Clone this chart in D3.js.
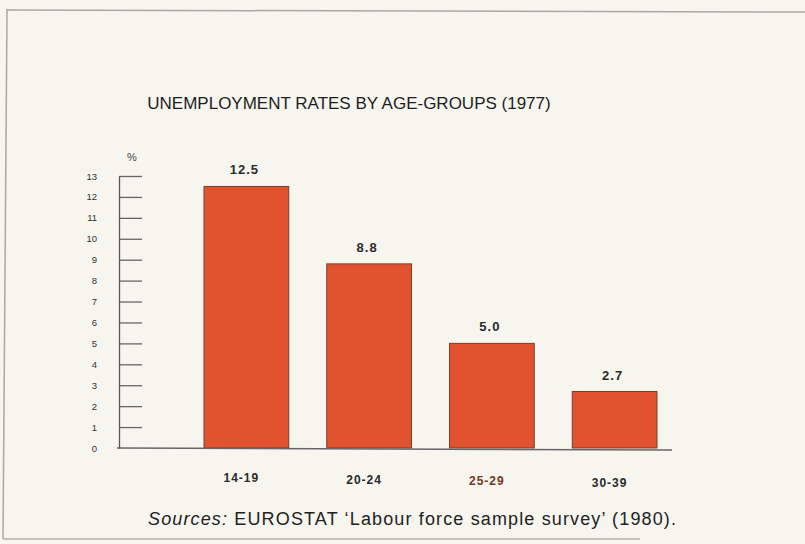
<!DOCTYPE html>
<html>
<head>
<meta charset="utf-8">
<script src="https://cdn.jsdelivr.net/npm/d3@7"></script>
<style>
	body { margin: 0; background: #f6f5ee; }
	svg { display: block; font-family: "Liberation Sans", Arial, sans-serif; }
</style>
</head>
<body>
<div id="chart"></div>
<script>
// Data
var ageGroups = ["14-19", "20-24", "25-29", "30-39"];
var rates = [12.5, 8.8, 5.0, 2.7];
var rateLabels = ["12.5", "8.8", "5.0", "2.7"];
var tickValues = [0, 1, 2, 3, 4, 5, 6, 7, 8, 9, 10, 11, 12, 13];

var svgW = 805,
	svgH = 544;

var svg = d3.select("#chart")
	.append("svg")
	.attr("width", svgW)
	.attr("height", svgH);

svg.append("rect")
	.attr("width", svgW)
	.attr("height", svgH)
	.attr("fill", "#f6f5ee");

// page frame (scan edges)
svg.append("line")
	.attr("x1", 6).attr("y1", 10).attr("x2", 805).attr("y2", 12)
	.attr("stroke", "#a9a9a4").attr("stroke-width", 1.5);
svg.append("line")
	.attr("x1", 7).attr("y1", 10).attr("x2", 3).attr("y2", 539)
	.attr("stroke", "#a9a9a4").attr("stroke-width", 1.5);
svg.append("line")
	.attr("x1", 3).attr("y1", 539).attr("x2", 640).attr("y2", 539)
	.attr("stroke", "#b3b3ae").attr("stroke-width", 1.5);

// title
svg.append("text")
	.attr("x", 349)
	.attr("y", 109)
	.attr("text-anchor", "middle")
	.attr("font-size", 17)
	.attr("fill", "#1e1e1e")
	.text("UNEMPLOYMENT RATES BY AGE-GROUPS (1977)");

// scales
var x = d3.scaleBand()
	.domain(ageGroups)
	.range([185, 676])
	.paddingInner(0.31)
	.paddingOuter(0.155);

var y = d3.scaleLinear()
	.domain([0, 13])
	.range([448, 176]);

// y axis: ticks pointing right, labels on the left
var yAxis = d3.axisLeft(y)
	.tickValues(tickValues)
	.tickSizeInner(-23)
	.tickSizeOuter(0)
	.tickPadding(22)
	.tickFormat(d3.format("d"));

var gY = svg.append("g")
	.attr("transform", "translate(119,0)")
	.call(yAxis);

gY.select(".domain")
	.attr("stroke", "#555")
	.attr("stroke-width", 1.3);
gY.selectAll(".tick line")
	.attr("stroke", "#666")
	.attr("stroke-width", 1.3);
gY.selectAll(".tick text")
	.attr("font-size", 9.5)
	.attr("fill", "#333")
	.attr("font-family", "Liberation Sans, Arial, sans-serif");
gY.selectAll(".tick")
	.filter(function(d) { return d === 0; })
	.select("line")
	.remove();

// percent sign
svg.append("text")
	.attr("x", 132)
	.attr("y", 161)
	.attr("text-anchor", "middle")
	.attr("font-size", 11)
	.attr("fill", "#444")
	.text("%");

// bars
svg.selectAll(".bar")
	.data(rates)
	.enter()
	.append("rect")
	.attr("class", "bar")
	.attr("x", function(d, i) { return x(ageGroups[i]); })
	.attr("y", function(d) { return y(d); })
	.attr("width", x.bandwidth())
	.attr("height", function(d) { return y(0) - y(d); })
	.attr("fill", "#e1532f")
	.attr("stroke", "#7a3a2a")
	.attr("stroke-width", 1);

// baseline
svg.append("line")
	.attr("x1", 117)
	.attr("x2", 672)
	.attr("y1", y(0))
	.attr("y2", y(0) + 2)
	.attr("stroke", "#666")
	.attr("stroke-width", 1.5);

// value labels
svg.selectAll(".value")
	.data(rates)
	.enter()
	.append("text")
	.attr("class", "value")
	.attr("x", function(d, i) { return x(ageGroups[i]) + x.bandwidth() / 2 - 2; })
	.attr("y", function(d) { return y(d) - 12; })
	.attr("text-anchor", "middle")
	.attr("font-size", 13)
	.attr("font-weight", "bold")
	.attr("fill", "#2a2a2a")
	.attr("letter-spacing", 1)
	.text(function(d, i) { return rateLabels[i]; });

// category labels
svg.selectAll(".cat")
	.data(ageGroups)
	.enter()
	.append("text")
	.attr("class", "cat")
	.attr("x", function(d) { return x(d) + x.bandwidth() / 2 - 5; })
	.attr("y", function(d, i) { return 482 + i * 1.5; })
	.attr("text-anchor", "middle")
	.attr("font-size", 12)
	.attr("font-weight", "bold")
	.attr("letter-spacing", 1)
	.attr("fill", function(d, i) { return i === 2 ? "#7a3328" : "#2a2a2a"; })
	.text(function(d) { return d; });

// source note
var src = svg.append("text")
	.attr("x", 148)
	.attr("y", 525)
	.attr("font-size", 18)
	.attr("fill", "#222")
	.attr("textLength", 528)
	.attr("lengthAdjust", "spacing");
src.append("tspan")
	.attr("font-style", "italic")
	.text("Sources:");
src.append("tspan")
	.text(" EUROSTAT \u2018Labour force sample survey\u2019 (1980).");
</script>
</body>
</html>
